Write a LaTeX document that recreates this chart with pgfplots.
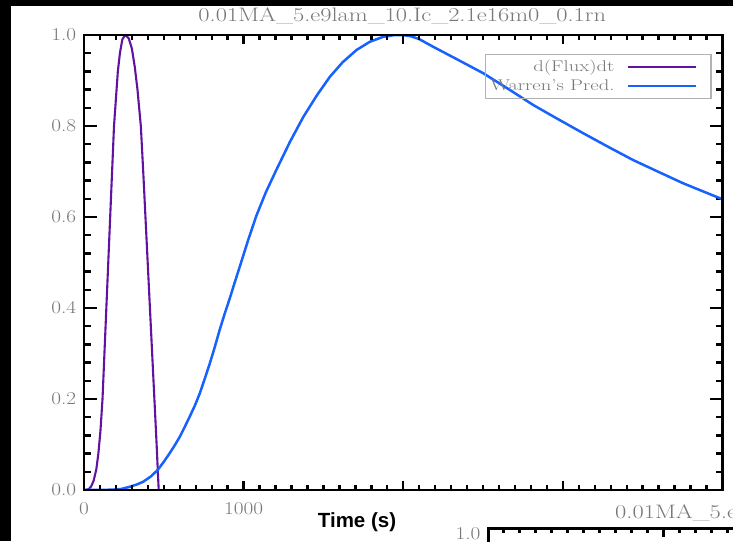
\documentclass[border=0pt]{standalone}
\usepackage{fontspec}
\usepackage{pgfplots}
\pgfplotsset{compat=1.18}
\newfontfamily\labelfont{Liberation Sans}
\definecolor{fluxpurple}{rgb}{0.38,0.07,0.63}
\definecolor{warrenblue}{rgb}{0.09,0.38,1.0}
\definecolor{txtgray}{gray}{0.47}
\tikzset{titlefont/.style={font=\fontsize{19.5}{21}\selectfont, text=txtgray, inner sep=0pt}}
\pgfplotsset{
  idlstyle/.style={
    scale only axis,
    axis line style={line width=2.5pt, black},
    tick style={line width=2.4pt, black},
    tick align=inside,
    every tick label/.append style={font=\fontsize{18}{20}\selectfont, text=txtgray, xscale=1.18, inner sep=0pt},
  },
}
\begin{document}
\begin{tikzpicture}[x=1pt,y=1pt]
\useasboundingbox (0,0) rectangle (733,541);
\begin{scope}
\clip (0,0) rectangle (733,541);
\fill[black] (0,0) rectangle (733,541);
\fill[white] (11,0) rectangle (733,535);

% main panel: data, y ticks, legend
\begin{axis}[idlstyle,
  at={(84pt,51pt)}, anchor=south west, width=638.5pt, height=455pt,
  xmin=0, xmax=4000, ymin=0, ymax=1,
  xtick=\empty,
  ytick={0,0.2,0.4,0.6,0.8,1.0}, yticklabels={0.0,0.2,0.4,0.6,0.8,1.0},
  minor y tick num=4,
  major tick length=12.7pt, minor tick length=6.7pt,
  yticklabel style={anchor=east, xshift=-6.5pt},
  title={\scalebox{1.255}[1]{0.01MA\_5.e9lam\_10.Ic\_2.1e16m0\_0.1rn}},
  title style={titlefont, at={(axis description cs:0.4985,1)}, anchor=base, yshift=7pt},
  xlabel={Time (s)},
  xlabel style={font=\labelfont\bfseries\fontsize{20.5}{22}\selectfont, text=black, at={(axis description cs:0.4276,-0.0835)}, anchor=base, inner sep=0pt},
  legend plot pos=right,
  legend cell align=right,
  legend style={at={(rel axis cs:0.983,0.959)}, anchor=north east, draw=gray!60, line width=1.2pt, fill=none,
    font=\fontsize{15.5}{17}\selectfont, text=txtgray, inner xsep=3pt, inner ysep=3.5pt,
    nodes={inner xsep=2pt, inner ysep=2.5pt},
    column sep=10pt, row sep=1.5pt},
  legend image code/.code={\draw[#1] (0pt,0pt) -- (68pt,0pt); \path (79pt,0pt);},
  legend image post style={line width=2.6pt},
]
\addplot[fluxpurple, line width=2.1pt] coordinates {
(0,0) (15,0.0003) (30,0.002) (45,0.008) (60,0.02) (77,0.045) (90,0.08) (103,0.13) (116,0.2)
(128,0.3) (140,0.4) (152,0.5) (164,0.6) (176,0.7) (188,0.8) (200,0.86) (212,0.92) (225,0.96)
(240,0.99) (257,1.0) (280,0.993) (300,0.97) (318,0.93) (335,0.88) (356,0.8) (371,0.7) (385,0.6)
(399,0.5) (413,0.4) (427,0.3) (441,0.2) (455,0.1) (462,0.045) (468,0)
};
\addlegendentry{\scalebox{1.33}[1]{d(Flux)dt}}
\addplot[warrenblue, line width=2.5pt] coordinates {
(0,0) (100,0.0001) (180,0.0008) (230,0.002) (287,0.007) (330,0.012) (370,0.018) (420,0.03)
(464,0.045) (500,0.062) (537,0.081) (570,0.099) (600,0.117) (630,0.138) (662,0.161) (695,0.186)
(725,0.212) (755,0.243) (788,0.278) (820,0.315) (850,0.352) (880,0.386) (913,0.421) (945,0.457)
(976,0.491) (1028,0.549) (1080,0.603) (1140,0.655) (1207,0.705) (1290,0.765) (1374,0.82)
(1460,0.868) (1540,0.908) (1620,0.94) (1707,0.967) (1790,0.985) (1874,0.996) (1940,0.9995)
(1994,1.0) (2050,0.997) (2100,0.991) (2188,0.974) (2340,0.946) (2501,0.916) (2660,0.881)
(2815,0.846) (2970,0.815) (3128,0.784) (3285,0.754) (3441,0.725) (3600,0.699) (3754,0.674)
(3880,0.656) (4000,0.639)
};
\addlegendentry{\scalebox{1.33}[1]{Warren's Pred.}}
\end{axis}

% main panel: x ticks (shorter than the y ticks)
\begin{axis}[idlstyle,
  at={(84pt,51pt)}, anchor=south west, width=638.5pt, height=455pt,
  xmin=0, xmax=4000, ymin=0, ymax=1,
  xtick={0,1000,2000,3000,4000}, xticklabels={0,1000,,,},
  minor x tick num=9, ytick=\empty,
  major tick length=9pt, minor tick length=5pt,
  xticklabel style={anchor=north, yshift=-12pt},
]
\end{axis}

% top-left corner of the next panel below
\begin{axis}[idlstyle,
  at={(488.3pt,12.7pt)}, anchor=north west, width=640pt, height=455pt,
  xmin=0, xmax=640, ymin=0, ymax=1,
  xtick={175}, xticklabels={}, minor xtick={15,31,...,255},
  ytick={1}, yticklabels={1.0},
  major tick length=9pt, minor tick length=5pt,
  yticklabel style={anchor=east, xshift=-6.5pt, yshift=-5pt},
  title={\scalebox{1.255}[1]{0.01MA\_5.e9lam\_10.Ic\_2.1e16m0\_0.1rn}},
  title style={titlefont, at={(rel axis cs:0,1)}, anchor=base west, xshift=126.7pt, yshift=4pt},
]
\end{axis}
\end{scope}
\end{tikzpicture}
\end{document}
